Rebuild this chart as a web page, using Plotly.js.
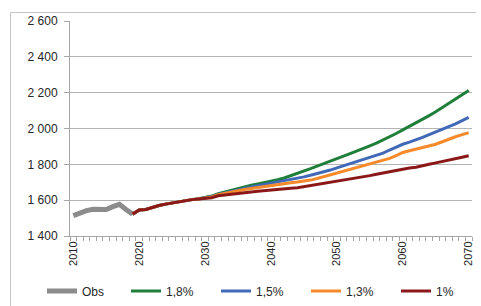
<!DOCTYPE html>
<html>
<head>
<meta charset="utf-8">
<script src="https://cdn.plot.ly/plotly-3.0.1.min.js"></script>
<style>
  html, body { margin: 0; padding: 0; background: #fff; }
  #chart { width: 481px; height: 306px; }
</style>
</head>
<body>
<div id="chart"></div>
<script>
// ---- data ----
const obsYears = [2010, 2011, 2012, 2013, 2014, 2015, 2016, 2017, 2018, 2019];
const obsValues = [1514, 1530, 1542, 1549, 1546, 1548, 1564, 1577, 1548, 1522];

const projYears = [2019, 2020, 2021, 2022, 2023, 2024, 2025, 2026, 2027, 2028, 2029,
  2030, 2031, 2032, 2033, 2034, 2035, 2036, 2037, 2038, 2039,
  2040, 2041, 2042, 2043, 2044, 2045, 2046, 2047, 2048, 2049,
  2050, 2051, 2052, 2053, 2054, 2055, 2056, 2057, 2058, 2059,
  2060, 2061, 2062, 2063, 2064, 2065, 2066, 2067, 2068, 2069, 2070];

const g18 = [1522, 1545, 1548, 1560, 1570, 1578, 1585, 1591, 1597, 1603, 1608,
  1614, 1623, 1636, 1646, 1657, 1666, 1675, 1683, 1691, 1698,
  1705, 1714, 1724, 1736, 1748, 1762, 1776, 1790, 1803, 1818,
  1832, 1846, 1860, 1873, 1888, 1903, 1918, 1935, 1953, 1972,
  1992, 2011, 2030, 2051, 2072, 2093, 2116, 2139, 2163, 2187, 2212];

const g15 = [1522, 1545, 1548, 1560, 1570, 1578, 1585, 1591, 1597, 1603, 1607,
  1612, 1620, 1632, 1641, 1650, 1658, 1666, 1674, 1681, 1688,
  1693, 1699, 1706, 1714, 1722, 1730, 1739, 1748, 1757, 1768,
  1780, 1792, 1803, 1814, 1825, 1836, 1848, 1862, 1880, 1897,
  1912, 1924, 1936, 1950, 1966, 1980, 1994, 2010, 2026, 2044, 2062];

const g13 = [1522, 1545, 1548, 1560, 1570, 1578, 1585, 1591, 1597, 1603, 1607,
  1611, 1618, 1630, 1638, 1646, 1652, 1659, 1665, 1671, 1677,
  1682, 1687, 1693, 1697, 1701, 1706, 1712, 1721, 1731, 1741,
  1752, 1762, 1771, 1780, 1790, 1800, 1810, 1820, 1833, 1849,
  1866, 1876, 1884, 1892, 1900, 1912, 1926, 1941, 1954, 1966, 1977];

const g10 = [1522, 1545, 1548, 1560, 1570, 1578, 1585, 1591, 1597, 1603, 1607,
  1610, 1614, 1625, 1630, 1635, 1638, 1642, 1646, 1650, 1654,
  1656, 1659, 1664, 1667, 1669, 1675, 1683, 1688, 1693, 1698,
  1706, 1713, 1719, 1724, 1730, 1737, 1745, 1752, 1762, 1770,
  1776, 1780, 1784, 1790, 1800, 1808, 1817, 1825, 1832, 1840, 1848];

const seriesNames = ['Obs', '1,8%', '1,5%', '1,3%', '1%'];
const xTickVals = [2010, 2020, 2030, 2040, 2050, 2060, 2070];
const yTickVals = [1400, 1600, 1800, 2000, 2200, 2400, 2600];

// ---- chart ----
const colors = ['#8c8c8c', '#1f7f3a', '#4169b8', '#f68a2b', '#8b1818'];
const widths = [5, 3, 3, 3, 3];
const legendIds = ['legend', 'legend2', 'legend3', 'legend4', 'legend5'];
const legendLeftPx = [42, 126, 216, 306, 396];
const ys = [obsValues, g18, g15, g13, g10];
const traces = ys.map((y, i) => ({
  type: 'scatter',
  mode: 'lines',
  name: seriesNames[i],
  legend: legendIds[i],
  x: i === 0 ? obsYears : projYears,
  y: y,
  line: { color: colors[i], width: widths[i] },
  hoverinfo: 'skip'
}));

const W = 481, H = 306;
const M = { l: 70, r: 9, t: 21, b: 70 };
const PW = W - M.l - M.r, PH = H - M.t - M.b;
const px2x = px => (px - M.l) / PW;
const py2y = py => (H - M.b - py) / PH;

const layout = {
  width: W, height: H,
  margin: M,
  paper_bgcolor: '#fff', plot_bgcolor: '#fff',
  separators: ', ',
  font: { family: 'Liberation Sans, Arial, sans-serif', size: 12, color: '#262626' },
  showlegend: true,
  shapes: [
    { type: 'line', xref: 'paper', yref: 'paper', layer: 'below',
      x0: px2x(10.5), x1: px2x(476), y0: py2y(12.5), y1: py2y(12.5),
      line: { color: '#c4c4c4', width: 1 } },
    { type: 'line', xref: 'paper', yref: 'paper', layer: 'below',
      x0: px2x(10.5), x1: px2x(10.5), y0: py2y(12.5), y1: py2y(310),
      line: { color: '#c4c4c4', width: 1 } }
  ],
  xaxis: {
    range: [2009.5, 2070.5],
    tickmode: 'array', tickvals: xTickVals, ticktext: xTickVals.map(String),
    tickangle: -90, ticks: '', tickfont: { size: 11, color: '#262626' },
    showgrid: false, zeroline: false,
    showline: true, linecolor: '#a6a6a6', linewidth: 1,
    minor: { ticks: 'outside', ticklen: 4, tickcolor: '#a6a6a6', tickwidth: 1,
             tick0: 2009.5, dtick: 1, showgrid: false },
    automargin: false,
    fixedrange: true
  },
  yaxis: {
    range: [1400, 2600],
    tickmode: 'array', tickvals: yTickVals, tickformat: ',d',
    ticks: 'outside', ticklen: 5, tickcolor: '#a6a6a6',
    ticklabelstandoff: 4,
    showgrid: true, gridcolor: '#b4b4b4', gridwidth: 1,
    zeroline: false, showline: true, linecolor: '#a6a6a6', linewidth: 1,
    tickfont: { size: 12, color: '#262626' },
    automargin: false,
    fixedrange: true
  }
};
legendIds.forEach((id, i) => {
  layout[id] = {
    orientation: 'h',
    xref: 'container', yref: 'container',
    x: legendLeftPx[i] / W, xanchor: 'left',
    y: 1 - 291 / H, yanchor: 'middle',
    font: { size: 12, color: '#262626' },
    bgcolor: 'rgba(0,0,0,0)', itemclick: false
  };
});

Plotly.newPlot('chart', traces, layout, { displayModeBar: false, staticPlot: true });
</script>
</body>
</html>
